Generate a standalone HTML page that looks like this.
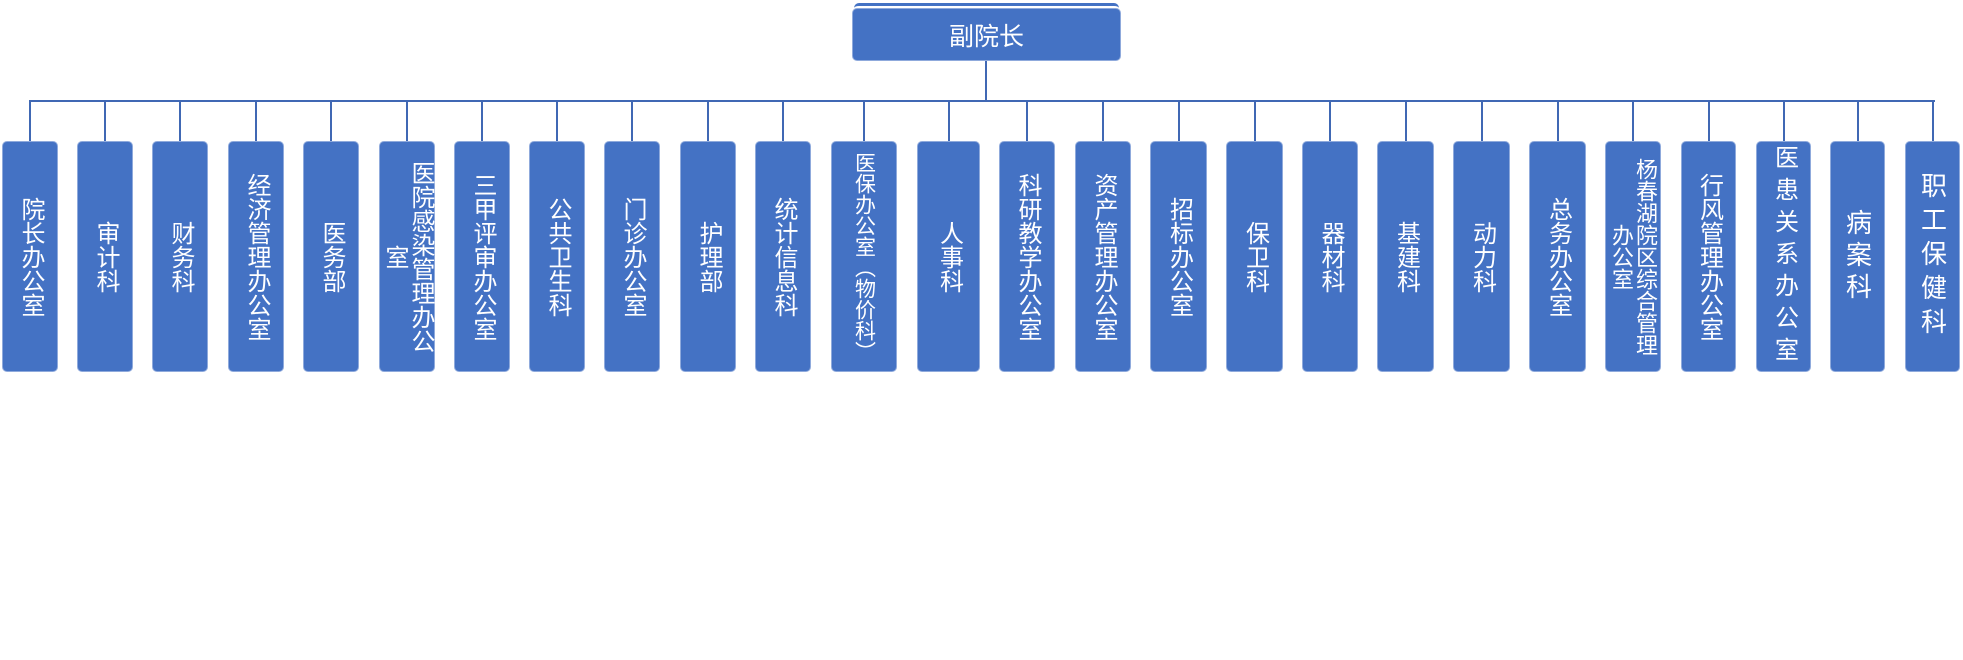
<!DOCTYPE html>
<html><head><meta charset="utf-8"><style>
body{margin:0;width:1963px;height:660px;background:#fff;position:relative;overflow:hidden;font-family:"Liberation Sans","Noto Sans CJK SC",sans-serif}
.b{position:absolute;top:141px;height:231px;background:#4472c4;border:1px solid #8faadc;box-sizing:border-box;border-radius:5px;color:#fff;display:flex;align-items:center;justify-content:center}
.t{writing-mode:vertical-rl;text-align:center;font-size:24px;line-height:26px}
.v{position:absolute;top:101px;width:2px;height:40px;background:#4068b4}
</style></head><body>
<div style="position:absolute;left:854px;top:3px;width:265px;height:10px;border-top:3px solid #4472c4;border-radius:5px 5px 0 0"></div>
<div style="position:absolute;left:852px;top:8px;width:269px;height:53px;background:#4472c4;border:1px solid #8faadc;box-sizing:border-box;border-radius:5px;color:#fff;font-size:25px;display:flex;align-items:center;justify-content:center">副院长</div>
<div style="position:absolute;left:985px;top:61px;width:2px;height:41px;background:#4068b4"></div>
<div style="position:absolute;left:29px;top:100px;width:1906px;height:2px;background:#4068b4"></div>
<div id="c"></div>
<script>
var d=[["院长办公室",2,58],["审计科",77,133],["财务科",152,208],["经济管理办公室",228,284],["医务部",303,359],["医院感染管理办公室",379,435,24,0,200],["三甲评审办公室",454,510],["公共卫生科",529,585],["门诊办公室",604,660],["护理部",680,736],["统计信息科",755,811],["医保办公室（物价科）",831,897,21,0,220],["人事科",917,980],["科研教学办公室",999,1055],["资产管理办公室",1075,1131],["招标办公室",1150,1207],["保卫科",1226,1283],["器材科",1302,1358],["基建科",1377,1434],["动力科",1453,1510],["总务办公室",1529,1586],["杨春湖院区综合管理办公室",1605,1661,22,0,200],["行风管理办公室",1681,1736],["医患关系办公室",1756,1811,24,8,240],["病案科",1830,1885,26,6],["职工保健科",1905,1960,26,8]];
var h="";d.forEach(function(e){var w=e[2]-e[1],c=Math.round((e[1]+e[2])/2);var fs=e[3]||24,ls=e[4]||0,mh=e[5]||225;
h+='<div class="v" style="left:'+(c-1)+'px"></div><div class="b" style="left:'+e[1]+'px;width:'+w+'px"><div class="t" style="font-size:'+fs+'px;letter-spacing:'+ls+'px;line-height:'+(fs+2)+'px;max-height:'+mh+'px">'+e[0]+'</div></div>';});
document.getElementById("c").innerHTML=h;
</script>
</body></html>
